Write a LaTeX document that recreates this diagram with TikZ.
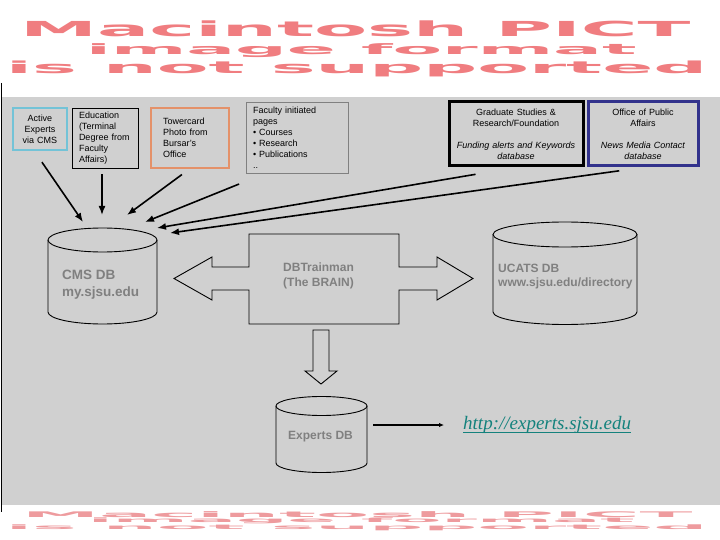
\documentclass[tikz,border=0pt]{standalone}
\usepackage{fontspec}
\setmainfont{Liberation Sans}
\newfontfamily\urlfont{Liberation Serif}
\newfontfamily\pictfont{DejaVu Sans}
\usepackage{graphicx}
\usepackage{tikz}
\usetikzlibrary{arrows.meta,backgrounds}

\definecolor{pictred}{RGB}{240,125,128}
\definecolor{pictfaint}{RGB}{238,155,158}
\definecolor{panel}{RGB}{208,208,208}
\definecolor{dbgray}{RGB}{128,128,128}
\definecolor{cmsblue}{RGB}{115,195,215}
\definecolor{bursar}{RGB}{228,145,105}
\definecolor{pubaff}{RGB}{50,50,140}
\definecolor{urlteal}{RGB}{20,130,125}

\newcommand\urlline[1]{\setbox0\hbox{#1}\rlap{\rule[-3.6pt]{\wd0}{1.2pt}}\box0}
% name, cx, top cy, bottom cy, rx, ry
\newcommand\dbdrum[6]{%
  \node[inner sep=0pt, minimum width={2*#5}, minimum height={#4-#3+2*#6}] (#1) at ({#2},{(#3+#4)/2}) {};
  \draw[drum] ({#2-#5},{#3}) -- ({#2-#5},{#4}) arc[start angle=180, end angle=0, x radius=#5, y radius=#6] -- ({#2+#5},{#3});
  \draw[drum] ({#2},{#3}) ellipse[x radius=#5, y radius=#6];
}

\tikzset{
  pict/.style={inner sep=0pt, text=pictred, font=\pictfont\bfseries},
  pictlow/.style={inner sep=0pt, text=pictfaint, font=\pictfont\bfseries},
  srcbox/.style={draw, line width=0.8pt, inner ysep=0pt, font=\fontsize{9}{11}\selectfont},
  drum/.style={line width=0.9pt},
  outline/.style={line width=0.9pt, line join=miter},
  dblabel/.style={inner sep=0pt, align=left, text=dbgray, font=\fontsize{12}{14.5}\selectfont\bfseries},
  feed/.style={line width=1.6pt, -{Latex[length=9pt,width=7pt]}},
  link/.style={line width=1.8pt, -{Latex[length=5pt,width=4.5pt]}}
}

\begin{document}
\begin{tikzpicture}[x=1pt,y=-1pt]
\fill[white] (0,0) rectangle (720,540);
\useasboundingbox (0,0) rectangle (720,540);

\node[pict, anchor=north west] (pictA) at (20,21) {\resizebox*{670pt}{16pt}{Macintosh PICT}};
\node[pict, anchor=north west] (pictB) at (86,43) {\resizebox*{550pt}{14pt}{image format}};
\node[pict, anchor=north west] (pictC) at (6,61) {\resizebox*{701pt}{16pt}{is not supported}};

\fill[panel] (2,97) rectangle (720,505);
\draw[line width=1pt] (1,83) -- (1,512);

\node[pictlow, anchor=north west] (pictD) at (22,511) {\resizebox*{670pt}{6pt}{Macintosh PICT}};
\node[pictlow, anchor=north west] (pictE) at (88,518) {\resizebox*{546pt}{6pt}{image format}};
\node[pictlow, anchor=north west] (pictF) at (6,525) {\resizebox*{701pt}{6pt}{is not supported}};

\node[srcbox, draw=cmsblue, line width=1.2pt, minimum width=54, minimum height=42, text width=50, inner xsep=2, align=center] (active) at (40,129) {Active\\Experts\\via CMS};
\node[srcbox, minimum width=66, minimum height=60, text width=52, inner xsep=7, align=left] (edu) at (105,138) {Education\\(Terminal\\Degree from\\Faculty\\Affairs)};
\node[srcbox, draw=bursar, line width=1.2pt, minimum width=78, minimum height=60, text width=54, inner xsep=12, align=left] (tower) at (190,138) {Towercard\\Photo from\\Bursar's\\Office};
\node[srcbox, draw=dbgray, minimum width=102, minimum height=71, text width=88, inner xsep=7, align=left] (faculty) at (297,137.5) {Faculty initiated\\pages\\\textbullet\ Courses\\\textbullet\ Research\\\textbullet\ Publications\\..};
\node[srcbox, line width=3pt, minimum width=134, minimum height=64, text width=126, inner xsep=4, align=center] (grad) at (516,134) {Graduate Studies \&\\Research/Foundation\\[11pt]\textit{Funding alerts and Keywords}\\\textit{database}};
\node[srcbox, draw=pubaff, line width=3pt, minimum width=110, minimum height=64, text width=102, inner xsep=4, align=center] (office) at (643,134) {Office of Public\\Affairs\\[11pt]\textit{News Media Contact}\\\textit{database}};

\dbdrum{cmsdb}{102.5}{240}{312}{54.5}{12}
\dbdrum{ucatsdb}{565}{234.5}{312}{72}{12.5}
\dbdrum{expdb}{321.5}{406}{463}{45.5}{9.5}

\node[dblabel, font=\fontsize{13.5}{17}\selectfont\bfseries, anchor=west] (cmstext) at (62,284.5) {CMS DB\\my.sjsu.edu};
\node[dblabel, anchor=west] (ucatstext) at (498,276.5) {UCATS DB\\www.sjsu.edu/directory};
\node[dblabel, anchor=west] (exptext) at (288,437) {Experts DB};

\node[inner sep=0pt, minimum width=150, minimum height=90] (brain) at (324,279) {};
\draw[outline] (249,234) -- (399,234) -- (399,267) -- (437,267) -- (437,257) -- (473,278.5) -- (437,300) -- (437,290) -- (399,290) -- (399,324)
  -- (249,324) -- (249,290) -- (212,290) -- (212,300) -- (174,278.5) -- (212,257) -- (212,267) -- (249,267) -- cycle;
\node[dblabel, anchor=west] (braintext) at (283,276) {DBTrainman\\(The BRAIN)};

\draw[outline] (313,330) -- (329,330) -- (329,371) -- (337,371) -- (321,384) -- (305,371) -- (313,371) -- cycle;

\coordinate (cmsinA) at (83,222);
\coordinate (cmsinB) at (102,215);
\coordinate (cmsinC) at (127,215);
\coordinate (cmsinD) at (145,222);
\coordinate (cmsinE) at (157,228);
\coordinate (cmsinF) at (170,233);

\draw[feed, shorten <=14pt] ([xshift=-6pt]active.south) -- (cmsinA);
\draw[feed, shorten <=6pt] ([xshift=-3pt]edu.south) -- (cmsinB);
\draw[feed, shorten <=10pt] (tower.south) -- (cmsinC);
\draw[feed, shorten <=7pt] ([yshift=-8pt]faculty.south west) -- (cmsinD);
\draw[feed, shorten <=41pt] (grad.south) -- (cmsinE);
\draw[feed, shorten <=24pt] (office.south) -- (cmsinF);

\node[anchor=west, inner sep=0pt, text=urlteal, font=\urlfont\itshape\fontsize{19}{22}\selectfont] (url) at (463,425) {\urlline{http://experts.sjsu.edu}};
\draw[link, shorten <=6pt, shorten >=19pt] (expdb.east |- url.west) -- (url.west);
\end{tikzpicture}
\end{document}
